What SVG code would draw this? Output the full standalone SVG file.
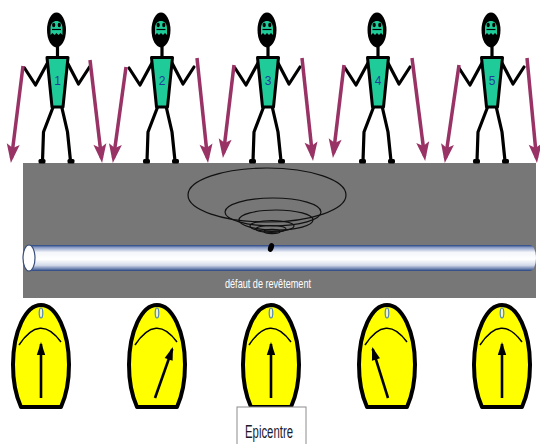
<svg xmlns="http://www.w3.org/2000/svg" xmlns:xlink="http://www.w3.org/1999/xlink" width="540" height="444" viewBox="0 0 540 444">
  <style>
    .limb { fill: none; stroke: #000; stroke-width: 3.2; stroke-linecap: round; stroke-linejoin: round; }
    .force { fill: none; stroke: #993366; stroke-width: 3.5; marker-end: url(#forceHead); }
    .ring { fill: none; stroke: #111; stroke-width: 1.2; }
    .num { font-family: "Liberation Sans", Arial, sans-serif; font-size: 12px; fill: #1f3f99; text-anchor: middle; }
    .needle { fill: none; stroke: #000; stroke-width: 2.6; marker-end: url(#needleHead); }
    .label { font-family: "Liberation Sans", Arial, sans-serif; }
  </style>
  <defs>
    <linearGradient id="pipeShade" x1="0" y1="0" x2="0" y2="1">
      <stop offset="0" stop-color="#26427f"/>
      <stop offset="0.1" stop-color="#8ea0c8"/>
      <stop offset="0.28" stop-color="#f4f6fa"/>
      <stop offset="0.55" stop-color="#ffffff"/>
      <stop offset="0.78" stop-color="#d3dae9"/>
      <stop offset="0.92" stop-color="#6b80ae"/>
      <stop offset="1" stop-color="#26427f"/>
    </linearGradient>
    <marker id="forceHead" markerUnits="userSpaceOnUse" markerWidth="24" markerHeight="16" viewBox="-16 -8 22 16" refX="0" refY="0" orient="auto">
      <path d="M5,0 L-14,-6.5 L-10,0 L-14,6.5 Z" fill="#993366"/>
    </marker>
    <marker id="needleHead" markerUnits="userSpaceOnUse" markerWidth="18" markerHeight="12" viewBox="-13 -6 17 12" refX="0" refY="0" orient="auto">
      <path d="M2,0 L-11,-4.2 L-11,4.2 Z" fill="#000"/>
    </marker>
    <!-- stick figure standing on the ground, drawn around x = 0 -->
    <g id="stick">
      <polyline class="limb" points="-9.5,62 -22,85 -33,68"/>
      <polyline class="limb" points="9.5,62 21,84 32,67"/>
      <polyline class="limb" points="-4,106 -14,132 -15,161"/>
      <polyline class="limb" points="4,106 10,132 13,161"/>
      <rect x="-19" y="159" width="7" height="4.5" rx="1.5" fill="#000"/>
      <rect x="10" y="159" width="7" height="4.5" rx="1.5" fill="#000"/>
      <line class="limb" x1="0" y1="45" x2="0" y2="58"/>
      <polygon points="-10.5,57.5 10.5,57.5 5.5,107 -5.5,107" fill="#1fcc99" stroke="#000" stroke-width="3" stroke-linejoin="round"/>
      <ellipse cx="-1" cy="30" rx="9.5" ry="17.5" fill="#000"/>
      <path d="M-7,28 C-7,18.5 5,18.5 5,28 L5,35 L3,33 L1,35 L-1,33 L-3,35 L-5,33 L-7,35 Z" fill="#1fcc99"/>
      <ellipse cx="-3.8" cy="25" rx="1.6" ry="2.2" fill="#000"/>
      <ellipse cx="1.8" cy="25" rx="1.6" ry="2.2" fill="#000"/>
      <path d="M-5.5,29.5 L3.5,29.5" stroke="#000" stroke-width="1.2"/>
    </g>
    <!-- yellow meter face with scale, drawn around x = 0 -->
    <g id="dial">
      <path d="M-20,407 A28,60 0 1 1 20,407 Z" fill="#ffff00" stroke="#000" stroke-width="4" stroke-linejoin="round"/>
      <path d="M-22,345 Q-1,313 20,342" fill="none" stroke="#000" stroke-width="1.5"/>
      <ellipse cx="0" cy="313" rx="1.8" ry="5" fill="#f4f4c8" stroke="#4f86b8" stroke-width="1.2"/>
    </g>
  </defs>

  <!-- ground section -->
  <rect id="ground" x="23" y="163" width="513" height="135" fill="#777777"/>

  <!-- surface vibration rings above the coating fault -->
  <g id="rings">
    <ellipse class="ring" cx="267" cy="195" rx="79" ry="27"/>
    <ellipse class="ring" cx="273" cy="212" rx="48" ry="14"/>
    <ellipse class="ring" cx="276" cy="220" rx="37" ry="10"/>
    <ellipse class="ring" cx="272" cy="226" rx="22" ry="5.5"/>
    <ellipse class="ring" cx="271" cy="229" rx="15" ry="3.5"/>
    <ellipse class="ring" cx="272" cy="231.5" rx="8" ry="2.2" stroke-width="1.6"/>
  </g>

  <!-- buried pipe -->
  <g id="pipe">
    <path d="M29,245 L530,245 A6,13 0 0 1 530,271 L29,271 Z" fill="url(#pipeShade)"/>
    <ellipse cx="29" cy="258" rx="6" ry="13" fill="#ffffff" stroke="#3a4f7c" stroke-width="1.2"/>
    <ellipse id="fault" cx="271" cy="247.5" rx="2.8" ry="4.5" transform="rotate(20 271 247.5)" fill="#000"/>
    <text class="label" x="268" y="288" font-size="13" fill="#ffffff" text-anchor="middle" textLength="86" lengthAdjust="spacingAndGlyphs">défaut de revêtement</text>
  </g>

  <!-- operators -->
  <g id="person-1" transform="translate(57.5,0)"><use xlink:href="#stick"/><text class="num" x="0" y="85">1</text></g>
  <g id="person-2" transform="translate(162,0)"><use xlink:href="#stick"/><text class="num" x="0" y="85">2</text></g>
  <g id="person-3" transform="translate(268,0)"><use xlink:href="#stick"/><text class="num" x="0" y="85">3</text></g>
  <g id="person-4" transform="translate(378,0)"><use xlink:href="#stick"/><text class="num" x="0" y="85">4</text></g>
  <g id="person-5" transform="translate(492,0)"><use xlink:href="#stick"/><text class="num" x="0" y="85">5</text></g>

  <!-- earth electrodes held by the operators -->
  <g id="connectors">
    <line class="force" x1="23" y1="66" x2="11.5" y2="158"/>
    <line class="force" x1="90" y1="60" x2="101.5" y2="158"/>
    <line class="force" x1="126" y1="67" x2="113.5" y2="158"/>
    <line class="force" x1="197" y1="58" x2="207.5" y2="158"/>
    <line class="force" x1="234" y1="65" x2="223.5" y2="153"/>
    <line class="force" x1="302" y1="58" x2="312.5" y2="156"/>
    <line class="force" x1="344" y1="65" x2="333.5" y2="153"/>
    <line class="force" x1="412" y1="58" x2="424.5" y2="156"/>
    <line class="force" x1="459" y1="65" x2="445.5" y2="158"/>
    <line class="force" x1="527" y1="58" x2="536.5" y2="158"/>
  </g>

  <!-- meters -->
  <g id="meter-1" transform="translate(41,0)"><use xlink:href="#dial"/><line class="needle" x1="0" y1="398" x2="0" y2="344"/></g>
  <g id="meter-2" transform="translate(157,0)"><use xlink:href="#dial"/><line class="needle" x1="-2" y1="398" x2="15.3" y2="349"/></g>
  <g id="meter-3" transform="translate(271,0)"><use xlink:href="#dial"/><line class="needle" x1="0" y1="398" x2="0" y2="344"/></g>
  <g id="meter-4" transform="translate(387,0)"><use xlink:href="#dial"/><line class="needle" x1="1" y1="398" x2="-14.3" y2="349"/></g>
  <g id="meter-5" transform="translate(502,0)"><use xlink:href="#dial"/><line class="needle" x1="0" y1="398" x2="0" y2="344"/></g>

  <!-- caption box -->
  <g id="epicentre">
    <rect x="237" y="407" width="69" height="42" fill="#ffffff" stroke="#8c8c8c" stroke-width="1"/>
    <text class="label" x="245" y="438" font-size="18" fill="#1a1a2e" textLength="48" lengthAdjust="spacingAndGlyphs">Epicentre</text>
  </g>
</svg>
